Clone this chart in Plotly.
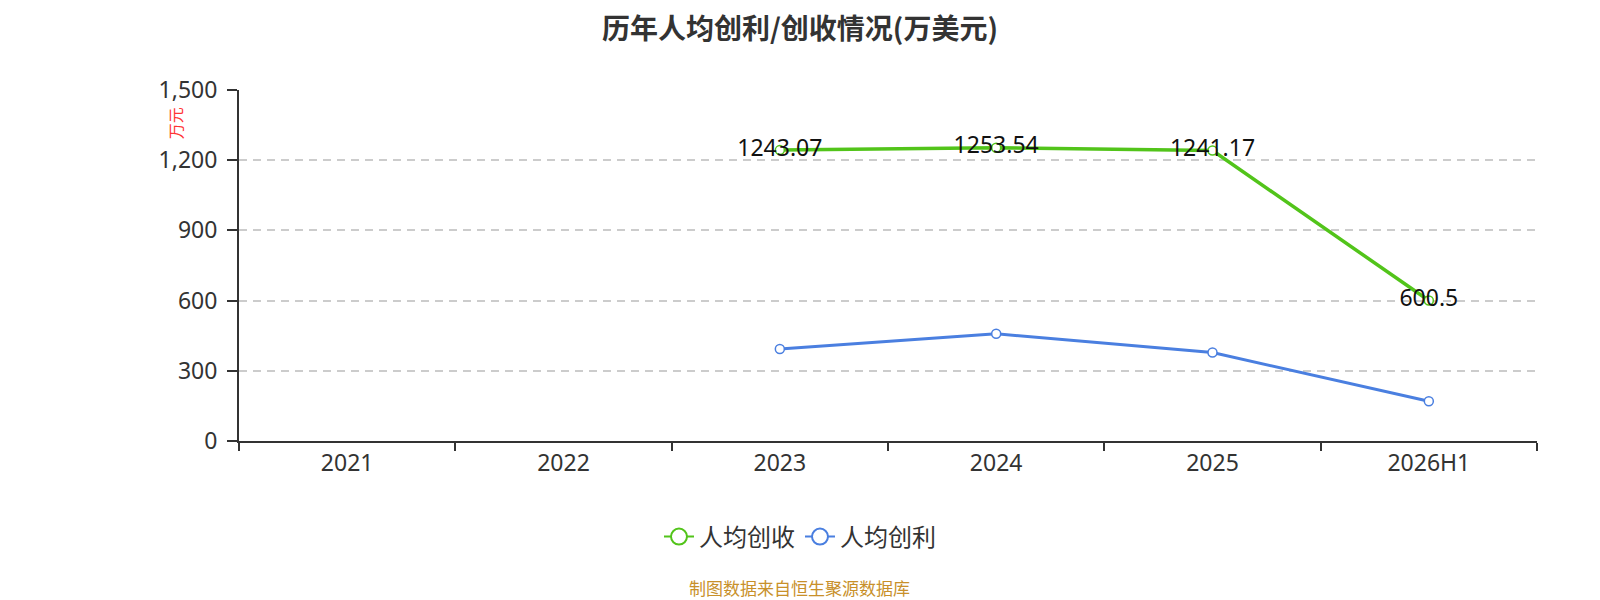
import plotly.graph_objects as go

years = ["2021", "2022", "2023", "2024", "2025", "2026H1"]
revenue_per_head = [None, None, 1243.07, 1253.54, 1241.17, 600.5]
profit_per_head = [None, None, 393, 458, 378, 170]
y_ticks = [0, 300, 600, 900, 1200, 1500]

FONT = "Noto Sans, Noto Sans CJK SC"
GREEN = "#52c41a"
BLUE = "#4a7fe0"

fig = go.Figure()
fig.add_trace(go.Scatter(
    x=years, y=revenue_per_head, name="人均创收", showlegend=False,
    mode="lines+markers+text",
    text=[("%g" % v) if v is not None else "" for v in revenue_per_head],
    textposition="middle center",
    textfont=dict(size=23, color="#111111", family=FONT),
    line=dict(color=GREEN, width=3.5),
    marker=dict(symbol="circle", size=9, color="white",
                line=dict(color=GREEN, width=1.5)),
))
fig.add_trace(go.Scatter(
    x=years, y=profit_per_head, name="人均创利", showlegend=False,
    mode="lines+markers",
    line=dict(color=BLUE, width=3),
    marker=dict(symbol="circle", size=9, color="white",
                line=dict(color=BLUE, width=1.5)),
))
# legend entries with bigger symbols
for name, col in [("人均创收", GREEN), ("人均创利", BLUE)]:
    fig.add_trace(go.Scatter(
        x=[None], y=[None], name=name, mode="lines+markers",
        line=dict(color=col, width=2),
        marker=dict(symbol="circle", size=22, color="white",
                    line=dict(color=col, width=2)),
    ))

fig.update_layout(
    width=1584, height=600,
    paper_bgcolor="white", plot_bgcolor="white",
    font=dict(family=FONT, color="#333333"),
    title=dict(text="<b>历年人均创利/创收情况(万美元)</b>", x=0.5, xanchor="center",
               y=0.9642, yanchor="middle",
               font=dict(size=28, color="#333333", family="Noto Sans CJK SC")),
    margin=dict(l=231, r=55, t=82, b=167, autoexpand=False),
    showlegend=True,
    legend=dict(orientation="h", x=0.4322, xanchor="center",
                y=-0.2735, yanchor="middle",
                font=dict(size=24, color="#333333"), itemsizing="trace"),
    xaxis=dict(
        type="category", categoryorder="array", categoryarray=years,
        range=[-0.5, 5.5], showgrid=False, zeroline=False,
        showline=True, linecolor="#333333", linewidth=2,
        ticks="outside", tickson="boundaries", ticklen=8, tickwidth=2,
        tickcolor="#333333", tickangle=0,
        tickfont=dict(size=23, color="#333333"),
    ),
    yaxis=dict(
        range=[0, 1500], tickvals=y_ticks, tickformat=",",
        showgrid=True, gridcolor="#cccccc", griddash="8px,6px", gridwidth=1.5,
        zeroline=False, showline=True, linecolor="#333333", linewidth=2,
        ticks="outside", ticklen=10, tickwidth=2, tickcolor="#333333",
        ticklabelstandoff=5,
        tickfont=dict(size=23, color="#333333"),
    ),
    annotations=[
        dict(text="万元", textangle=-90, xref="paper", yref="paper",
             x=-0.048, y=0.9046, xanchor="center", yanchor="middle",
             showarrow=False, font=dict(size=16, color="#ff3333")),
        dict(text="制图数据来自恒生聚源数据库", xref="paper", yref="paper",
             x=0.4322, y=-0.419, xanchor="center", yanchor="middle",
             showarrow=False, font=dict(size=17, color="#c8902a")),
    ],
)

fig.write_html("out.html")
